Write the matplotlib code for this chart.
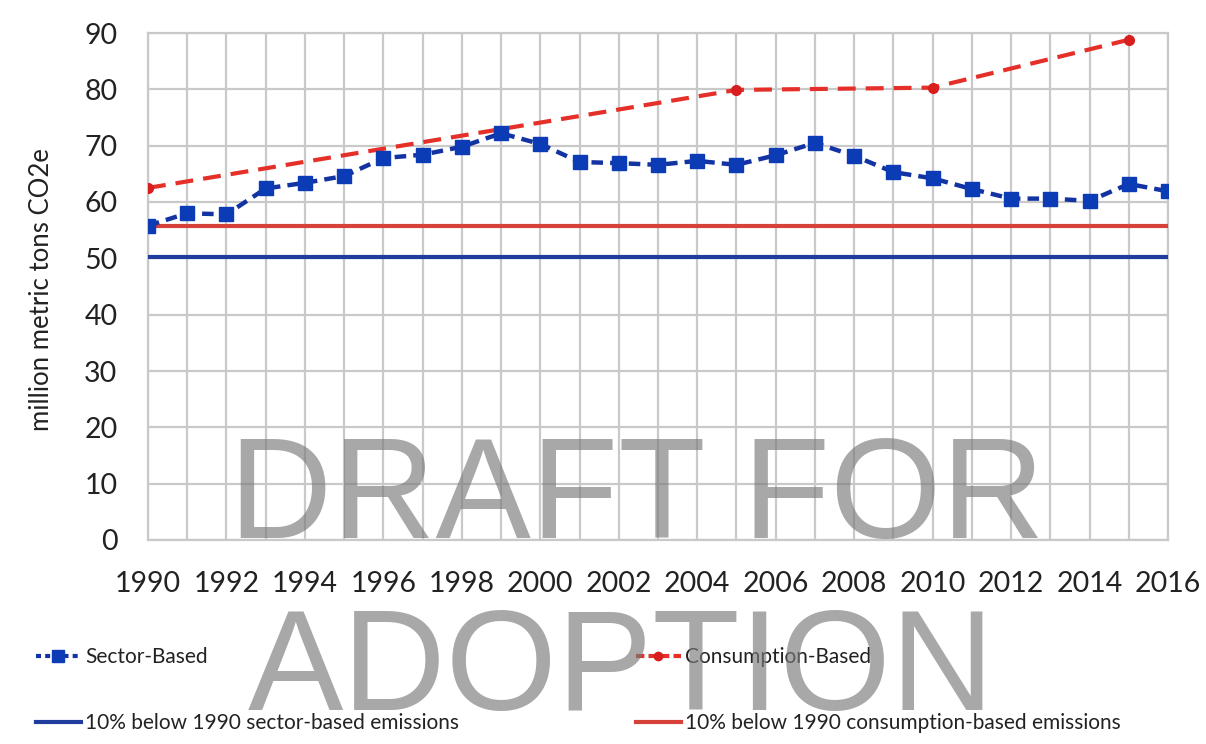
import matplotlib
matplotlib.use("Agg")
import matplotlib.pyplot as plt
from matplotlib.lines import Line2D

plt.rcParams['font.family'] = ['Lato', 'DejaVu Sans']

# emissions, million metric tons CO2e
years = list(range(1990, 2017))
sector = [55.8, 58.0, 57.8, 62.4, 63.4, 64.6, 67.8, 68.4, 69.8, 72.2, 70.3, 67.1,
          66.9, 66.6, 67.3, 66.6, 68.3, 70.5, 68.2, 65.3, 64.2, 62.3, 60.6, 60.6,
          60.2, 63.2, 61.9]
cons_years = [1990, 2005, 2010, 2015]
consumption = [62.5, 79.9, 80.3, 88.8]
sector_target = 50.3
cons_target = 55.8

yticks = list(range(0, 91, 10))
xticks = list(range(1990, 2017, 2))

BLUE = '#1433a3'
RED = '#e5302a'
GRID = '#c9c9c9'
TXT = '#222222'

fig = plt.figure(figsize=(12.06, 7.44), dpi=100)
ax = fig.add_axes([148 / 1206, 1 - 540 / 744, 1020 / 1206, 507 / 744])

ax.axhline(sector_target, color='#203d9e', lw=3, zorder=3)
ax.axhline(cons_target, color='#d8403a', lw=3, zorder=3)
ax.plot(cons_years, consumption, color=RED, lw=3, dashes=(4.3, 2.4),
        marker='o', ms=7, mfc='#d81e1e', mec='#d81e1e', zorder=4)
ax.plot(years, sector, color=BLUE, lw=3.2, dashes=(2.6, 1.6),
        marker='s', ms=10, mfc='#0b3bb5', mec='#0b3bb5', zorder=5)

ax.set_xlim(1990, 2016)
ax.set_ylim(0, 90)
ax.set_xticks(years, minor=True)
ax.set_xticks(xticks)
ax.set_yticks(yticks)
ax.grid(True, which='both', color=GRID, lw=1.6)
ax.set_axisbelow(True)
ax.tick_params(which='both', length=0, labelsize=20.5, colors=TXT)
ax.tick_params(axis='x', pad=22)
ax.tick_params(axis='y', pad=22)
for s in ax.spines.values():
    s.set_color(GRID)
    s.set_linewidth(1.6)
ax.set_ylabel('million metric tons CO2e', fontsize=18.5, color=TXT)
ax.yaxis.set_label_coords(-94 / 1020, (540 - 290) / 507)

leg_kw = dict(loc='center left', frameon=False, fontsize=15, handlelength=2.15,
              handletextpad=0.2, labelspacing=2.2, borderaxespad=0, borderpad=0)

left_handles = [
    Line2D([], [], color=BLUE, lw=3, dashes=(1.2, 1.0), marker='s', ms=8,
           mfc='#0b3bb5', mec='#0b3bb5'),
    Line2D([], [], color='#203d9e', lw=3),
]
right_handles = [
    Line2D([], [], color=RED, lw=3, dashes=(2, 1), marker='o', ms=6,
           mfc='#d81e1e', mec='#d81e1e'),
    Line2D([], [], color='#d8403a', lw=3),
]
leg1 = fig.legend(left_handles,
                  ['Sector-Based', '10% below 1990 sector-based emissions'],
                  bbox_to_anchor=(36 / 1206, 1 - 690 / 744), **leg_kw)
for t in leg1.get_texts():
    t.set_color(TXT)
leg2 = fig.legend(right_handles,
                  ['Consumption-Based', '10% below 1990 consumption-based emissions'],
                  bbox_to_anchor=(636 / 1206, 1 - 690 / 744), **leg_kw)
for t in leg2.get_texts():
    t.set_color(TXT)

# watermark over the chart
wm = dict(family='Liberation Sans', fontsize=103, color='#7a7a7a', alpha=0.65,
          ha='center', va='baseline', zorder=10)
fig.text(637 / 1206, 1 - 538 / 744, 'DRAFT FOR', **wm)
fig.text(621 / 1206, 1 - 710 / 744, 'ADOPTION', **wm)

fig.savefig('out.png', dpi=100)
